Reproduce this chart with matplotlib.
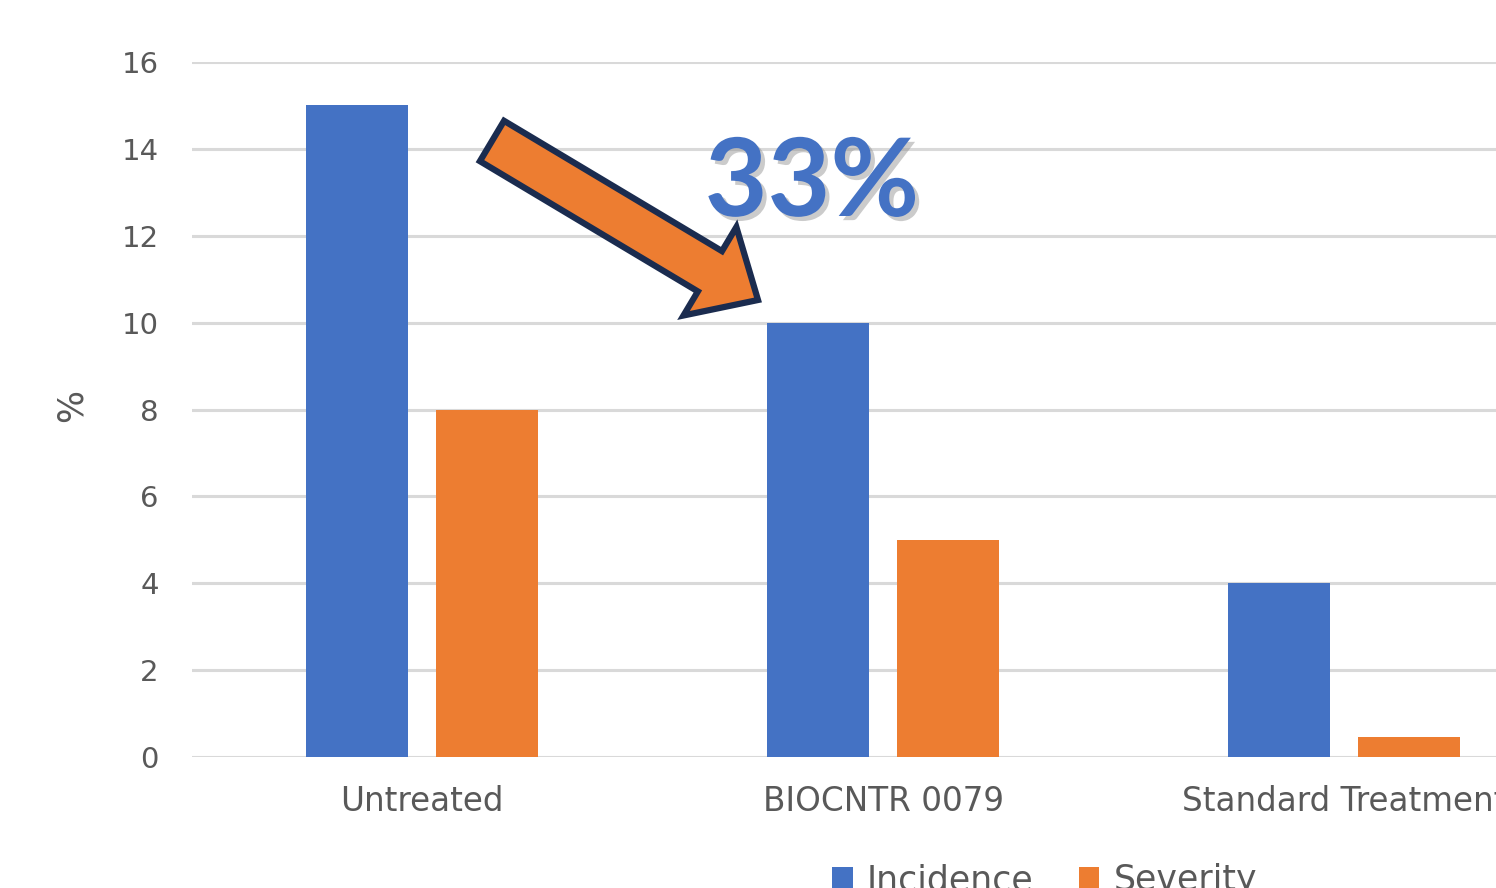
import matplotlib
matplotlib.use("Agg")
import numpy as np
from matplotlib import pyplot as plt
from matplotlib import patches as mpatches
from matplotlib import patheffects as pe

categories = ["Untreated", "BIOCNTR 0079", "Standard Treatment"]
incidence = [15, 10, 4]
severity = [8, 5, 0.45]
series_names = ["Incidence", "Severity"]
y_ticks = [0, 2, 4, 6, 8, 10, 12, 14, 16]

blue = "#4472c4"
orange = "#ed7d31"
navy = "#1b2c4f"
gray_text = "#595959"
grid_gray = "#d9d9d9"

plt.rcParams["font.family"] = ["DejaVu Sans"]

W, H = 14.96, 8.88
fig = plt.figure(figsize=(W, H), dpi=100)
ax = fig.add_axes([0.1283, 0.1475, 0.8717, 0.7827])

x = np.arange(len(categories))
width = 0.221
offset = 0.141
b1 = ax.bar(x - offset, incidence, width, color=blue, zorder=2, label=series_names[0])
b2 = ax.bar(x + offset, severity, width, color=orange, zorder=2, label=series_names[1])

ax.set_xlim(-0.5, 2.33)
ax.set_ylim(0, 16)
ax.set_yticks(y_ticks)
ax.set_xticks(x)
ax.set_xticklabels(categories)
ax.yaxis.grid(True, color=grid_gray, linewidth=2.2, zorder=0)
ax.set_axisbelow(True)
for s in ax.spines.values():
    s.set_visible(False)
ax.tick_params(axis="y", length=0, pad=24, labelsize=21, labelcolor=gray_text)
ax.tick_params(axis="x", length=0, pad=20, labelsize=23.5, labelcolor=gray_text)

fig.text(72 / 1496, 1 - 405 / 888, "%", rotation=90, fontsize=25, color=gray_text,
         ha="center", va="center")

# arrow pointing at the BIOCNTR bar, drawn in inches from the lower-left corner
arrow = mpatches.FancyArrow(4.92, 7.47, 2.66, -1.59, width=0.47, head_width=1.03,
                            head_length=0.56, length_includes_head=True,
                            facecolor=orange, edgecolor=navy, linewidth=4.5,
                            transform=fig.dpi_scale_trans, zorder=5)
fig.patches.append(arrow)

fig.text(8.12 / W, 6.72 / H, "33%", fontsize=78, fontweight="bold",
         family=["Lato", "DejaVu Sans"], color=blue, ha="center", va="baseline",
         path_effects=[pe.withSimplePatchShadow(offset=(3, -3), shadow_rgbFace="#8c8c8c",
                                               alpha=0.45)])

fig.legend(handles=[b1, b2], labels=series_names, loc="upper left",
           bbox_to_anchor=(832 / 1496, 1 - 863 / 888), bbox_transform=fig.transFigure,
           ncol=2, frameon=False, fontsize=25, labelcolor=gray_text,
           borderpad=0, borderaxespad=0,
           handlelength=0.6, handleheight=0.6, handletextpad=0.4, columnspacing=1.3)

fig.savefig("out.png", dpi=100)
